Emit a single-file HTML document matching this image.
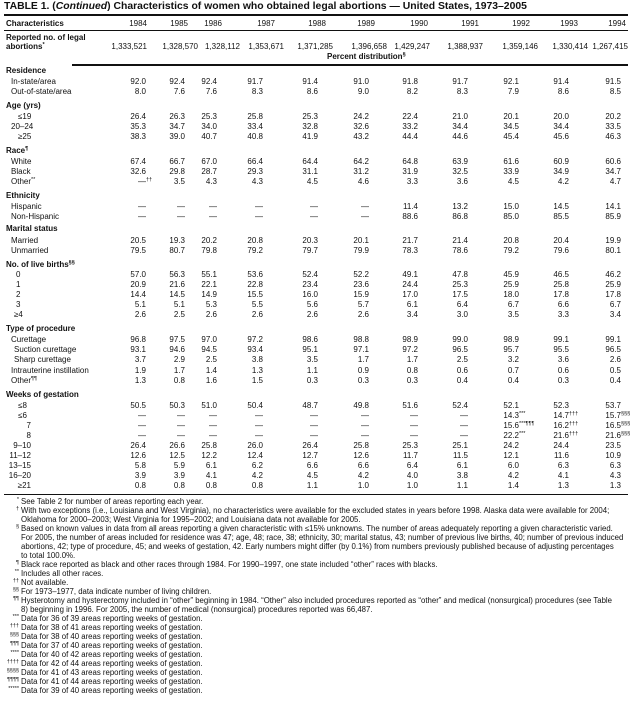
<!DOCTYPE html>
<html><head><meta charset="utf-8"><style>
*{margin:0;padding:0}
body{width:641px;height:706px;background:#fff;position:relative;overflow:hidden;font-family:"Liberation Sans",Arial,sans-serif;color:#111}
.t{position:absolute;left:4px;top:1px;font-size:10.4px;font-weight:bold;white-space:nowrap}
.ln{position:absolute;background:#111}
.r{position:absolute;left:0;width:641px;height:10px;line-height:10px;font-size:8px;white-space:nowrap}
.r u{position:absolute;text-decoration:none}
.r b{position:absolute;left:6px}
.r i{position:absolute;font-style:normal}
.r i s{position:absolute;left:100%;top:-2px;font-size:5.5px;text-decoration:none}
.r i:nth-of-type(1){right:495px}.r i:nth-of-type(2){right:456px}.r i:nth-of-type(3){right:424px}
.r i:nth-of-type(4){right:378px}.r i:nth-of-type(5){right:323px}.r i:nth-of-type(6){right:272px}
.r i:nth-of-type(7){right:223px}.r i:nth-of-type(8){right:173px}.r i:nth-of-type(9){right:122px}
.r i:nth-of-type(10){right:72px}.r i:nth-of-type(11){right:20px}
.a{left:11px}.b{left:14px}.c{left:16px}.d{left:18px}
.w{right:610px}
sup{font-size:5.5px;vertical-align:3px;line-height:0}
.f{position:absolute;left:21px;font-size:7.8px;line-height:9px;white-space:nowrap}
.f em{position:absolute;right:100%;padding-right:2px;font-style:normal;font-size:5.5px;top:-1px}
</style></head><body>
<div class="t">TABLE 1. (<span style="font-style:italic">Continued</span>) Characteristics of women who obtained legal abortions — United States, 1973–2005</div>
<div class="ln" style="left:4px;top:14px;width:624px;height:1.5px"></div>
<div class="ln" style="left:4px;top:30px;width:624px;height:1px"></div>
<div class="ln" style="left:72px;top:64px;width:556px;height:2px"></div>
<div class="ln" style="left:4px;top:494px;width:624px;height:1px"></div>

<div class="r" style="top:19px"><b>Characteristics</b><i style="right:494px">1984</i><i style="right:453px">1985</i><i style="right:419px">1986</i><i style="right:366px">1987</i><i style="right:315px">1988</i><i style="right:266px">1989</i><i style="right:213px">1990</i><i style="right:162px">1991</i><i style="right:111px">1992</i><i style="right:63px">1993</i><i style="right:15px">1994</i></div>
<div class="r" style="top:33px"><b>Reported no. of legal</b></div>
<div class="r" style="top:42px"><b>abortions<sup>*</sup></b><i style="right:494px">1,333,521</i><i style="right:443px">1,328,570</i><i style="right:401px">1,328,112</i><i style="right:357px">1,353,671</i><i style="right:308px">1,371,285</i><i style="right:254px">1,396,658</i><i style="right:211px">1,429,247</i><i style="right:158px">1,388,937</i><i style="right:103px">1,359,146</i><i style="right:53px">1,330,414</i><i style="right:13px">1,267,415</i></div>
<div class="r" style="top:52px"><b style="left:327px">Percent distribution<sup>§</sup></b></div>

<div class="r" style="top:66px"><b>Residence</b></div>
<div class="r" style="top:77px"><u class="a">In-state/area</u><i>92.0</i><i>92.4</i><i>92.4</i><i>91.7</i><i>91.4</i><i>91.0</i><i>91.8</i><i>91.7</i><i>92.1</i><i>91.4</i><i>91.5</i></div>
<div class="r" style="top:86.5px"><u class="a">Out-of-state/area</u><i>8.0</i><i>7.6</i><i>7.6</i><i>8.3</i><i>8.6</i><i>9.0</i><i>8.2</i><i>8.3</i><i>7.9</i><i>8.6</i><i>8.5</i></div>

<div class="r" style="top:101px"><b>Age (yrs)</b></div>
<div class="r" style="top:112px"><u class="d">≤19</u><i>26.4</i><i>26.3</i><i>25.3</i><i>25.8</i><i>25.3</i><i>24.2</i><i>22.4</i><i>21.0</i><i>20.1</i><i>20.0</i><i>20.2</i></div>
<div class="r" style="top:122px"><u class="a">20–24</u><i>35.3</i><i>34.7</i><i>34.0</i><i>33.4</i><i>32.8</i><i>32.6</i><i>33.2</i><i>34.4</i><i>34.5</i><i>34.4</i><i>33.5</i></div>
<div class="r" style="top:132px"><u class="d">≥25</u><i>38.3</i><i>39.0</i><i>40.7</i><i>40.8</i><i>41.9</i><i>43.2</i><i>44.4</i><i>44.6</i><i>45.4</i><i>45.6</i><i>46.3</i></div>

<div class="r" style="top:146px"><b>Race<sup>¶</sup></b></div>
<div class="r" style="top:157px"><u class="a">White</u><i>67.4</i><i>66.7</i><i>67.0</i><i>66.4</i><i>64.4</i><i>64.2</i><i>64.8</i><i>63.9</i><i>61.6</i><i>60.9</i><i>60.6</i></div>
<div class="r" style="top:167px"><u class="a">Black</u><i>32.6</i><i>29.8</i><i>28.7</i><i>29.3</i><i>31.1</i><i>31.2</i><i>31.9</i><i>32.5</i><i>33.9</i><i>34.9</i><i>34.7</i></div>
<div class="r" style="top:177px"><u class="a">Other<sup>**</sup></u><i>—<s>††</s></i><i>3.5</i><i>4.3</i><i>4.3</i><i>4.5</i><i>4.6</i><i>3.3</i><i>3.6</i><i>4.5</i><i>4.2</i><i>4.7</i></div>

<div class="r" style="top:191px"><b>Ethnicity</b></div>
<div class="r" style="top:202px"><u class="a">Hispanic</u><i>—</i><i>—</i><i>—</i><i>—</i><i>—</i><i>—</i><i>11.4</i><i>13.2</i><i>15.0</i><i>14.5</i><i>14.1</i></div>
<div class="r" style="top:212px"><u class="a">Non-Hispanic</u><i>—</i><i>—</i><i>—</i><i>—</i><i>—</i><i>—</i><i>88.6</i><i>86.8</i><i>85.0</i><i>85.5</i><i>85.9</i></div>

<div class="r" style="top:224px"><b>Marital status</b></div>
<div class="r" style="top:235.5px"><u class="a">Married</u><i>20.5</i><i>19.3</i><i>20.2</i><i>20.8</i><i>20.3</i><i>20.1</i><i>21.7</i><i>21.4</i><i>20.8</i><i>20.4</i><i>19.9</i></div>
<div class="r" style="top:246px"><u class="a">Unmarried</u><i>79.5</i><i>80.7</i><i>79.8</i><i>79.2</i><i>79.7</i><i>79.9</i><i>78.3</i><i>78.6</i><i>79.2</i><i>79.6</i><i>80.1</i></div>

<div class="r" style="top:260px"><b>No. of live births<sup>§§</sup></b></div>
<div class="r" style="top:269.5px"><u class="c">0</u><i>57.0</i><i>56.3</i><i>55.1</i><i>53.6</i><i>52.4</i><i>52.2</i><i>49.1</i><i>47.8</i><i>45.9</i><i>46.5</i><i>46.2</i></div>
<div class="r" style="top:280px"><u class="c">1</u><i>20.9</i><i>21.6</i><i>22.1</i><i>22.8</i><i>23.4</i><i>23.6</i><i>24.4</i><i>25.3</i><i>25.9</i><i>25.8</i><i>25.9</i></div>
<div class="r" style="top:290px"><u class="c">2</u><i>14.4</i><i>14.5</i><i>14.9</i><i>15.5</i><i>16.0</i><i>15.9</i><i>17.0</i><i>17.5</i><i>18.0</i><i>17.8</i><i>17.8</i></div>
<div class="r" style="top:300px"><u class="c">3</u><i>5.1</i><i>5.1</i><i>5.3</i><i>5.5</i><i>5.6</i><i>5.7</i><i>6.1</i><i>6.4</i><i>6.7</i><i>6.6</i><i>6.7</i></div>
<div class="r" style="top:310px"><u class="b">≥4</u><i>2.6</i><i>2.5</i><i>2.6</i><i>2.6</i><i>2.6</i><i>2.6</i><i>3.4</i><i>3.0</i><i>3.5</i><i>3.3</i><i>3.4</i></div>

<div class="r" style="top:324px"><b>Type of procedure</b></div>
<div class="r" style="top:335px"><u class="a">Curettage</u><i>96.8</i><i>97.5</i><i>97.0</i><i>97.2</i><i>98.6</i><i>98.8</i><i>98.9</i><i>99.0</i><i>98.9</i><i>99.1</i><i>99.1</i></div>
<div class="r" style="top:345px"><u class="b">Suction curettage</u><i>93.1</i><i>94.6</i><i>94.5</i><i>93.4</i><i>95.1</i><i>97.1</i><i>97.2</i><i>96.5</i><i>95.7</i><i>95.5</i><i>96.5</i></div>
<div class="r" style="top:355px"><u class="b">Sharp curettage</u><i>3.7</i><i>2.9</i><i>2.5</i><i>3.8</i><i>3.5</i><i>1.7</i><i>1.7</i><i>2.5</i><i>3.2</i><i>3.6</i><i>2.6</i></div>
<div class="r" style="top:366px"><u class="a">Intrauterine instillation</u><i>1.9</i><i>1.7</i><i>1.4</i><i>1.3</i><i>1.1</i><i>0.9</i><i>0.8</i><i>0.6</i><i>0.7</i><i>0.6</i><i>0.5</i></div>
<div class="r" style="top:376px"><u class="a">Other<sup>¶¶</sup></u><i>1.3</i><i>0.8</i><i>1.6</i><i>1.5</i><i>0.3</i><i>0.3</i><i>0.3</i><i>0.4</i><i>0.4</i><i>0.3</i><i>0.4</i></div>

<div class="r" style="top:390px"><b>Weeks of gestation</b></div>
<div class="r" style="top:401px"><u class="w" style="right:614px">≤8</u><i>50.5</i><i>50.3</i><i>51.0</i><i>50.4</i><i>48.7</i><i>49.8</i><i>51.6</i><i>52.4</i><i>52.1</i><i>52.3</i><i>53.7</i></div>
<div class="r" style="top:411px"><u class="w" style="right:614px">≤6</u><i>—</i><i>—</i><i>—</i><i>—</i><i>—</i><i>—</i><i>—</i><i>—</i><i>14.3<s>***</s></i><i>14.7<s>†††</s></i><i>15.7<s>§§§</s></i></div>
<div class="r" style="top:421px"><u class="w">7</u><i>—</i><i>—</i><i>—</i><i>—</i><i>—</i><i>—</i><i>—</i><i>—</i><i>15.6<s>***¶¶¶</s></i><i>16.2<s>†††</s></i><i>16.5<s>§§§</s></i></div>
<div class="r" style="top:431px"><u class="w">8</u><i>—</i><i>—</i><i>—</i><i>—</i><i>—</i><i>—</i><i>—</i><i>—</i><i>22.2<s>***</s></i><i>21.6<s>†††</s></i><i>21.6<s>§§§</s></i></div>
<div class="r" style="top:441px"><u class="w">9–10</u><i>26.4</i><i>26.6</i><i>25.8</i><i>26.0</i><i>26.4</i><i>25.8</i><i>25.3</i><i>25.1</i><i>24.2</i><i>24.4</i><i>23.5</i></div>
<div class="r" style="top:451px"><u class="w">11–12</u><i>12.6</i><i>12.5</i><i>12.2</i><i>12.4</i><i>12.7</i><i>12.6</i><i>11.7</i><i>11.5</i><i>12.1</i><i>11.6</i><i>10.9</i></div>
<div class="r" style="top:461px"><u class="w">13–15</u><i>5.8</i><i>5.9</i><i>6.1</i><i>6.2</i><i>6.6</i><i>6.6</i><i>6.4</i><i>6.1</i><i>6.0</i><i>6.3</i><i>6.3</i></div>
<div class="r" style="top:471px"><u class="w">16–20</u><i>3.9</i><i>3.9</i><i>4.1</i><i>4.2</i><i>4.5</i><i>4.2</i><i>4.0</i><i>3.8</i><i>4.2</i><i>4.1</i><i>4.3</i></div>
<div class="r" style="top:481px"><u class="w">≥21</u><i>0.8</i><i>0.8</i><i>0.8</i><i>0.8</i><i>1.1</i><i>1.0</i><i>1.0</i><i>1.1</i><i>1.4</i><i>1.3</i><i>1.3</i></div>

<div class="f" style="top:497px"><em>*</em>See Table 2 for number of areas reporting each year.</div>
<div class="f" style="top:506px"><em>†</em>With two exceptions (i.e., Louisiana and West Virginia), no characteristics were available for the excluded states in years before 1998. Alaska data were available for 2004;</div>
<div class="f" style="top:515px">Oklahoma for 2000–2003; West Virginia for 1995–2002; and Louisiana data not available for 2005.</div>
<div class="f" style="top:524px"><em>§</em>Based on known values in data from all areas reporting a given characteristic with ≤15% unknowns. The number of areas adequately reporting a given characteristic varied.</div>
<div class="f" style="top:533px">For 2005, the number of areas included for residence was 47; age, 48; race, 38; ethnicity, 30; marital status, 43; number of previous live births, 40; number of previous induced</div>
<div class="f" style="top:542px">abortions, 42; type of procedure, 45; and weeks of gestation, 42. Early numbers might differ (by 0.1%) from numbers previously published because of adjusting percentages</div>
<div class="f" style="top:551px">to total 100.0%.</div>
<div class="f" style="top:560px"><em>¶</em>Black race reported as black and other races through 1984. For 1990–1997, one state included “other” races with blacks.</div>
<div class="f" style="top:569px"><em>**</em>Includes all other races.</div>
<div class="f" style="top:578px"><em>††</em>Not available.</div>
<div class="f" style="top:587px"><em>§§</em>For 1973–1977, data indicate number of living children.</div>
<div class="f" style="top:596px"><em>¶¶</em>Hysterotomy and hysterectomy included in “other” beginning in 1984. “Other” also included procedures reported as “other” and medical (nonsurgical) procedures (see Table</div>
<div class="f" style="top:605px">8) beginning in 1996. For 2005, the number of medical (nonsurgical) procedures reported was 66,487.</div>
<div class="f" style="top:614px"><em>***</em>Data for 36 of 39 areas reporting weeks of gestation.</div>
<div class="f" style="top:623px"><em>†††</em>Data for 38 of 41 areas reporting weeks of gestation.</div>
<div class="f" style="top:632px"><em>§§§</em>Data for 38 of 40 areas reporting weeks of gestation.</div>
<div class="f" style="top:641px"><em>¶¶¶</em>Data for 37 of 40 areas reporting weeks of gestation.</div>
<div class="f" style="top:650px"><em>****</em>Data for 40 of 42 areas reporting weeks of gestation.</div>
<div class="f" style="top:659px"><em>††††</em>Data for 42 of 44 areas reporting weeks of gestation.</div>
<div class="f" style="top:668px"><em>§§§§</em>Data for 41 of 43 areas reporting weeks of gestation.</div>
<div class="f" style="top:677px"><em>¶¶¶¶</em>Data for 41 of 44 areas reporting weeks of gestation.</div>
<div class="f" style="top:686px"><em>*****</em>Data for 39 of 40 areas reporting weeks of gestation.</div>
</body></html>
